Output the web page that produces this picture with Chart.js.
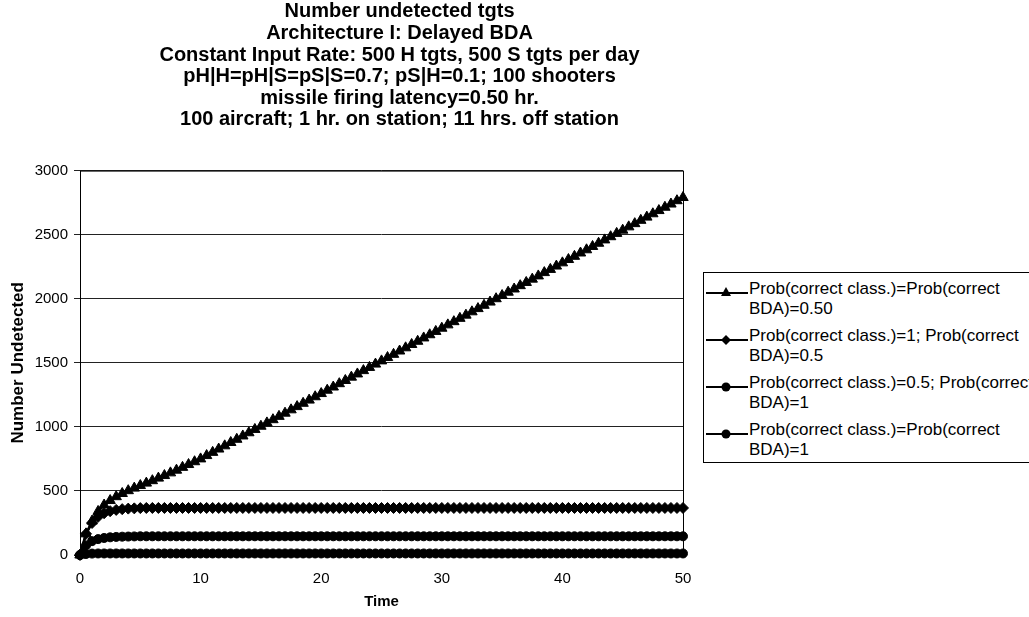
<!DOCTYPE html>
<html>
<head>
<meta charset="utf-8">
<script src="https://cdn.jsdelivr.net/npm/chart.js@4.4.1/dist/chart.umd.min.js"></script>
<style>
  body { margin: 0; background: #fff; overflow: hidden; width: 1029px; height: 617px; position: relative; }
  #chart { position: absolute; left: 0; top: 0; }
  #legend {
    position: absolute; left: 703px; top: 272px; width: 360px; height: 183px;
    border: 1px solid #000; padding-top: 6px; font-family: 'Liberation Sans', Arial, sans-serif;
    font-size: 17px; line-height: 20px; color: #000; white-space: nowrap; background: #fff;
  }
  .item { position: relative; height: 40px; margin-bottom: 7px; padding-left: 45px; }
  .item svg { position: absolute; left: 1px; top: 4px; }
</style>
</head>
<body>
<canvas id="chart" width="1029" height="617"></canvas>
<div id="legend"></div>
<script>
document.addEventListener('DOMContentLoaded', function() {
    // time axis (steps of 0.5)
    const time = [0, 0.5, 1, 1.5, 2, 2.5, 3, 3.5, 4, 4.5, 5, 5.5, 6, 6.5, 7, 7.5, 8, 8.5, 9, 9.5,
        10, 10.5, 11, 11.5, 12, 12.5, 13, 13.5, 14, 14.5, 15, 15.5, 16, 16.5, 17, 17.5, 18, 18.5, 19, 19.5,
        20, 20.5, 21, 21.5, 22, 22.5, 23, 23.5, 24, 24.5, 25, 25.5, 26, 26.5, 27, 27.5, 28, 28.5, 29, 29.5,
        30, 30.5, 31, 31.5, 32, 32.5, 33, 33.5, 34, 34.5, 35, 35.5, 36, 36.5, 37, 37.5, 38, 38.5, 39, 39.5,
        40, 40.5, 41, 41.5, 42, 42.5, 43, 43.5, 44, 44.5, 45, 45.5, 46, 46.5, 47, 47.5, 48, 48.5, 49, 49.5, 50];

    // Prob(correct class.)=Prob(correct BDA)=0.50
    const seriesHalfHalf = [0, 165, 265, 340, 390, 425, 455, 480, 502, 522, 542, 561, 580, 600, 620, 641, 662, 684, 706, 728,
        750, 776, 801, 827, 852, 878, 903, 929, 954, 980, 1005, 1031, 1056, 1082, 1107, 1133, 1158, 1184, 1209, 1235,
        1260, 1286, 1311, 1337, 1362, 1388, 1413, 1439, 1464, 1490, 1515, 1541, 1566, 1592, 1617, 1643, 1668, 1694, 1719, 1745,
        1770, 1796, 1821, 1847, 1872, 1898, 1923, 1949, 1974, 2000, 2025, 2051, 2076, 2102, 2127, 2153, 2178, 2204, 2229, 2255,
        2280, 2306, 2331, 2357, 2382, 2408, 2433, 2459, 2484, 2510, 2535, 2561, 2586, 2612, 2637, 2663, 2688, 2714, 2739, 2765, 2790];

    // Prob(correct class.)=1; Prob(correct BDA)=0.5
    const seriesClass1 = [0, 165, 250, 298, 326, 342, 352, 358, 362, 364, 366, 367, 367, 367, 367, 367, 367, 367, 367, 367,
        367, 367, 367, 367, 367, 367, 367, 367, 367, 367, 367, 367, 367, 367, 367, 367, 367, 367, 367, 367,
        367, 367, 367, 367, 367, 367, 367, 367, 367, 367, 367, 367, 367, 367, 367, 367, 367, 367, 367, 367,
        367, 367, 367, 367, 367, 367, 367, 367, 367, 367, 367, 367, 367, 367, 367, 367, 367, 367, 367, 367,
        367, 367, 367, 367, 367, 367, 367, 367, 367, 367, 367, 367, 367, 367, 367, 367, 367, 367, 367, 367, 367];

    // Prob(correct class.)=0.5; Prob(correct BDA)=1
    const seriesBda1 = [0, 75, 108, 124, 133, 138, 141, 143, 144, 145, 146, 146, 146, 146, 146, 146, 146, 146, 146, 146,
        146, 146, 146, 146, 146, 146, 146, 146, 146, 146, 146, 146, 146, 146, 146, 146, 146, 146, 146, 146,
        146, 146, 146, 146, 146, 146, 146, 146, 146, 146, 146, 146, 146, 146, 146, 146, 146, 146, 146, 146,
        146, 146, 146, 146, 146, 146, 146, 146, 146, 146, 146, 146, 146, 146, 146, 146, 146, 146, 146, 146,
        146, 146, 146, 146, 146, 146, 146, 146, 146, 146, 146, 146, 146, 146, 146, 146, 146, 146, 146, 146, 146];

    // Prob(correct class.)=Prob(correct BDA)=1
    const seriesAll1 = [0, 8, 11, 12, 12, 12, 12, 12, 12, 12, 12, 12, 12, 12, 12, 12, 12, 12, 12, 12,
        12, 12, 12, 12, 12, 12, 12, 12, 12, 12, 12, 12, 12, 12, 12, 12, 12, 12, 12, 12,
        12, 12, 12, 12, 12, 12, 12, 12, 12, 12, 12, 12, 12, 12, 12, 12, 12, 12, 12, 12,
        12, 12, 12, 12, 12, 12, 12, 12, 12, 12, 12, 12, 12, 12, 12, 12, 12, 12, 12, 12,
        12, 12, 12, 12, 12, 12, 12, 12, 12, 12, 12, 12, 12, 12, 12, 12, 12, 12, 12, 12, 12];

    const seriesLabels = [
        ['Prob(correct class.)=Prob(correct', 'BDA)=0.50'],
        ['Prob(correct class.)=1; Prob(correct', 'BDA)=0.5'],
        ['Prob(correct class.)=0.5; Prob(correct', 'BDA)=1'],
        ['Prob(correct class.)=Prob(correct', 'BDA)=1']
    ];
    const yTicks = [0, 500, 1000, 1500, 2000, 2500, 3000];
    const xTicks = [0, 10, 20, 30, 40, 50];

    const titleLines = [
        'Number undetected tgts',
        'Architecture I: Delayed BDA',
        'Constant Input Rate: 500 H tgts, 500 S tgts per day',
        'pH|H=pH|S=pS|S=0.7; pS|H=0.1; 100 shooters',
        'missile firing latency=0.50 hr.',
        '100 aircraft; 1 hr. on station; 11 hrs. off station'
    ];

    const allSeries = [seriesHalfHalf, seriesClass1, seriesBda1, seriesAll1];
    const styles = [
        { pointStyle: 'triangle', radius: 6 },
        { pointStyle: 'rectRot', radius: 5.5 },
        { pointStyle: 'circle', radius: 4.5 },
        { pointStyle: 'circle', radius: 4.5 }
    ];

    const datasets = allSeries.map((vals, i) => ({
        label: seriesLabels[i].join(' '),
        data: vals.map((v, j) => ({ x: time[j], y: v })),
        borderColor: '#000',
        backgroundColor: '#000',
        borderWidth: 2.5,
        pointStyle: styles[i].pointStyle,
        pointRadius: styles[i].radius,
        pointBorderWidth: 1,
        clip: false,
        tension: 0
    }));

    // box around plot area
    const plotBorder = {
        id: 'plotBorder',
        beforeDatasetsDraw(chart) {
            const a = chart.chartArea;
            const ctx = chart.ctx;
            ctx.save();
            ctx.strokeStyle = '#000';
            ctx.lineWidth = 1;
            ctx.strokeRect(a.left + 0.5, a.top + 0.5, a.right - a.left, a.bottom - a.top);
            ctx.restore();
        }
    };

    // title sits a bit right of the plot centre in the original
    const shiftTitle = {
        id: 'shiftTitle',
        afterLayout(chart) {
            chart.titleBlock.left += 18;
            chart.titleBlock.right += 18;
        }
    };

    new Chart(document.getElementById('chart').getContext('2d'), {
        type: 'line',
        data: { datasets: datasets },
        options: {
            responsive: false,
            animation: false,
            layout: { padding: { left: 0, right: 346, top: 0, bottom: 0 } },
            plugins: {
                legend: { display: false },
                tooltip: { enabled: false },
                title: {
                    display: true,
                    text: titleLines,
                    fullSize: false,
                    color: '#000',
                    font: { family: 'Liberation Sans', size: 20, weight: 'bold', lineHeight: '21.6px' },
                    padding: { top: 1, bottom: 40 }
                }
            },
            scales: {
                x: {
                    type: 'linear',
                    min: 0,
                    max: 50,
                    afterBuildTicks: s => { s.ticks = xTicks.map(v => ({ value: v })); },
                    afterFit: s => { s.height = 62; },
                    grid: { display: false, drawTicks: false },
                    border: { display: false },
                    ticks: { color: '#000', padding: 15, font: { family: 'Liberation Sans', size: 15 } },
                    title: { display: true, text: 'Time', color: '#000', padding: { top: 0, bottom: 6 },
                        font: { family: 'Liberation Sans', size: 15, weight: 'bold' } }
                },
                y: {
                    min: 0,
                    max: 3000,
                    afterBuildTicks: s => { s.ticks = yTicks.map(v => ({ value: v })); },
                    afterFit: s => { s.width = 80; },
                    grid: { color: '#222', lineWidth: 1, tickLength: 6 },
                    border: { display: false },
                    ticks: { color: '#000', padding: 6, font: { family: 'Liberation Sans', size: 15 },
                        callback: v => String(v) },
                    title: { display: true, text: 'Number Undetected', color: '#000', padding: { top: 8, bottom: 0 },
                        font: { family: 'Liberation Sans', size: 17, weight: 'bold' } }
                }
            }
        },
        plugins: [plotBorder, shiftTitle]
    });

    // HTML legend with two-line entries
    const legend = document.getElementById('legend');
    seriesLabels.forEach((lines, i) => {
        const item = document.createElement('div');
        item.className = 'item';
        let marker;
        if (styles[i].pointStyle === 'triangle') {
            marker = '<polygon points="21,4 26,13 16,13" fill="#000"/>';
        } else if (styles[i].pointStyle === 'rectRot') {
            marker = '<polygon points="21,5 26,10 21,15 16,10" fill="#000"/>';
        } else {
            marker = '<circle cx="21" cy="10" r="4.5" fill="#000"/>';
        }
        item.innerHTML = '<svg width="44" height="20"><line x1="1" y1="10" x2="43" y2="10" stroke="#000" stroke-width="2"/>' +
            marker + '</svg>' + lines.join('<br>');
        legend.appendChild(item);
    });
});
</script>
</body>
</html>
